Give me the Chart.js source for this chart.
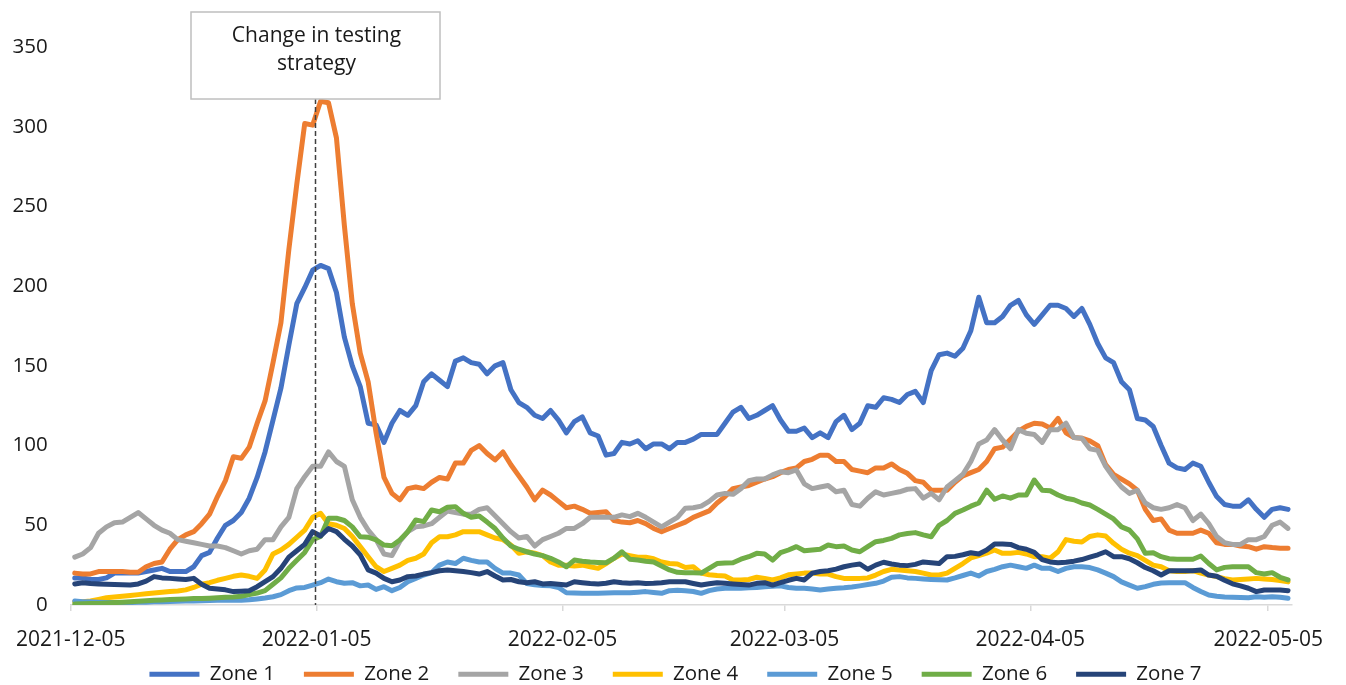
<!DOCTYPE html>
<html>
<head>
<meta charset="UTF-8">
<title>Zones</title>
<script src="https://cdn.jsdelivr.net/npm/chart.js@4.4.1/dist/chart.umd.min.js"></script>
<style>
  html, body { margin: 0; padding: 0; background: #fff; }
  #area-grafico { width: 1346px; height: 685px; }
</style>
</head>
<body>
<div id="area-grafico"><canvas id="grafico" width="1346" height="685"></canvas></div>
<script>
  // daily values, first day = startDate
  var startDate = '2021-12-05';
  var tickLabels = ['2021-12-05', '2022-01-05', '2022-02-05', '2022-03-05', '2022-04-05', '2022-05-05'];
  var seriesNames = ['Zone 1', 'Zone 2', 'Zone 3', 'Zone 4', 'Zone 5', 'Zone 6', 'Zone 7'];
  var seriesColors = ['#4472C4', '#ED7D31', '#A5A5A5', '#FFC000', '#5B9BD5', '#70AD47', '#264478'];
  var markerDate = '2022-01-05';
  var markerText = ['Change in testing', 'strategy'];

  var zone1 = [17,17,16,16,17,20,20,20,20,21,
    22,23,21,21,21,24,31,33,42,50,
    53,58,67,80,96,116,136,163,189,199,
    210,213,211,196,168,150,137,114,113,102,
    114,122,119,125,140,145,141,137,153,155,
    152,151,145,150,152,135,127,124,119,117,
    122,116,108,115,118,108,106,94,95,102,
    101,103,98,101,101,98,102,102,104,107,
    107,107,114,121,124,117,119,122,125,116,
    109,109,111,105,108,105,115,119,110,114,
    125,124,130,129,127,132,134,127,147,157,
    158,156,161,172,193,177,177,181,188,191,
    182,176,182,188,188,186,181,186,176,164,
    155,152,140,135,117,116,112,100,89,86,
    85,89,87,77,68,63,62,62,66,60,
    55,60,61,60];
  var zone2 = [20,19.5,19.5,21,21,21,21,20.5,20.5,24,
    26,27,35,41,44,46,51,57,68,78,
    93,92,99,114,128,152,177,223,264,302,
    301,316,315,293,238,189,158,140,108,80,
    70,66,73,74,73,77,80,79,89,89,
    97,100,95,91,96,88,81,74,66,72,
    69,65,61,62,60,57.5,58,58.5,53,52,
    51.6,53,51,48,46,48,50,52,55,57,
    59,64,68,73,74,75,77,79,80.5,83,
    85,86,90,91.4,94,94,90,90,85,84,
    83,86,86,88.5,85,82.6,78,77,72,72,
    72,77,81,83,85,90,98,99,104,109,
    112,114,113.5,111,117,108,105,104.6,103,100,
    88,82,79,76,72,60,53,54,47,45,
    45,45,47,45,39,38,38,37,36.6,35,
    36.6,36,35.6,35.6];
  var zone3 = [30,32,36,45,49,51.6,52,55,58,54,
    50,47,45,41,40,39,38,37,37,36,
    34,32,34,35,41,41,49,55,73,80.5,
    87,87,96,90,87,66,55,47,41,32,
    31,40,46,49,49.6,51,55,59,58,57,
    57,60,61,56,51,46,42,43,37,41,
    43,45,48,48,51,55,55,55,55,56.5,
    55.4,57.5,55,52,49,52,55,60.7,61,62,
    65,69,70,69.4,73,78,79,79,81.6,83.6,
    83,84.7,76,73,74,75,71,72,63,62,
    67,71,69,70,71,72.6,73,67,70,66,
    74,78,82,90,101,103.5,110,103.5,98,110,
    107.7,107,102,110,110,114,105,104.6,98,97,
    87,80,74,70,72,64,61,60,61,63,
    61,53,57,51,43,39,38,38,41,41,
    43,50,52,48];
  var zone4 = [2,2,2.5,3.5,4.5,5,5.5,6,6.5,7,
    7.5,8,8.5,8.8,9.5,11,13,14,15.5,16.7,
    18,18.8,18,16.7,22,32,34.5,38,42.5,47,
    55,57.5,51,50,48,43,36.6,30.3,24,21,
    23,25,28,29.3,32,39,42.8,42.8,44,46,
    46,46,44,42,41,37.6,32.4,33.4,32.5,31,
    27,25,25,24.5,25,24,23,26,29.3,32,
    31,30,30,29,27,26,25.7,23.5,24,20,
    19,18.5,18.2,15.7,15.7,16,17.4,16.7,15.7,17,
    19,19.5,20,20,19.5,19.4,17.8,16.7,16.7,16.7,
    17,18.8,21,22.4,22,21.5,21,20,18.8,18.8,
    20,23,26,29.5,31,32.5,34.5,32.4,32.4,33,
    32,30.3,30.3,29.3,33.4,41,40,39.5,43,44,
    43.3,38.7,35,32.5,31,28,25,24,21.5,21,
    21,21.5,20,18.8,17.8,16.5,15.7,16,16.3,16.7,
    16.3,16,15.3,14.5];
  var zone5 = [2.5,2,2,1.8,1.5,1.5,1.5,1.5,1.8,1.8,
    2,2,2.2,2.3,2.5,2.5,2.7,2.8,3,3,
    3,3,3.3,3.8,4.4,5.2,6.5,9,10.7,11,
    12.5,14,16.3,14.6,13.6,14,12,12.5,9.8,11.5,
    9,11,14.6,16.7,18.8,20.3,25,27,26,29.3,
    28,27,27,23,20,20,18.8,13.5,12.7,12.3,
    12,11,7.7,7.5,7.3,7.3,7.3,7.5,7.7,7.7,
    7.7,8,8.4,7.8,7.3,9,9.2,9,8.5,7.3,
    9,10,10.5,10.5,10.5,10.8,11,11.5,11.8,12,
    11,10.5,10.5,10,9.4,10,10.5,10.8,11.3,12,
    12.8,13.6,15,17.4,17.8,17,16.7,16.3,16,15.8,
    15.7,17,18.5,20,18.2,21,22.4,24,25,24,
    23,25,23,23,21,23,24,24,23.5,22,
    20,17.8,14.5,12.5,10.5,11.5,13,13.8,14,14,
    14,11,8.5,6.3,5.5,5,4.8,4.7,4.6,5.2,
    4.8,5.2,4.8,4.2];
  var zone6 = [0.6,0.8,1,1,1.2,1.5,1.8,2,2.3,2.7,
    3,3.2,3.4,3.6,3.8,4,4,4.2,4.5,4.8,
    5,5.5,6.5,7.5,9,13,17,23,28,33,
    41,43,54.4,54.4,53,49,42.8,42.5,40.8,37.6,
    37.2,40.8,46,53.3,52.3,59.6,58.5,61.3,61.7,57.5,
    55,55.8,52,48,42,37,35,33.4,32,31,
    29.3,27,24,28.2,27.5,27,26.7,26.5,29.3,33.4,
    28.7,28.2,27.5,27,24.5,22,20.5,20.3,20.2,20,
    23,26,26.3,26.5,28.7,30.3,32.4,32,28.2,32.8,
    34.5,36.6,34,34.5,35,37.6,36.6,37,34.5,33.4,
    36.6,39.7,40.5,41.8,44,44.8,45.4,44,42.8,50,
    53,57.5,59.6,62,64,72,66.3,68.4,67,69,
    69,78.4,72,71.7,69,67,66,64,62.7,60,
    57,54,49,47,41.5,32.4,32.8,30.3,29,28.7,
    28.7,28.7,30.7,26,22,23.6,24,24,24,20.3,
    19.4,20.3,17.4,15.7];
  var zone7 = [13.2,14,13.5,13.2,13,12.8,12.7,12.5,13.2,15,
    17.8,17,16.7,16.3,16,16.7,13,10.5,10,9.5,
    8.4,8.7,9,11.5,14.6,17.8,23,30,34,38,
    46,43.3,48,46,41.2,37,31.4,22,20,16.7,
    14.6,15.7,17.8,18.2,19.4,20.3,21.5,22,21.5,21,
    20.3,19.4,21,18.2,15.7,16,14.6,14,14.6,13.2,
    13.5,13,12.5,14.6,14,13.5,13.2,13.6,14.6,14,
    13.6,14,13.5,13.6,14,14.6,14.6,14.6,13.5,12.5,
    13.3,14,13.6,13.2,12.8,12.5,13.6,14,12.5,14,
    15.5,16.7,15.7,20,21,21.5,22.5,24,25,25.7,
    22.4,25,26.8,25.7,25,24.7,25.5,27,26.5,26,
    30.3,30.5,31.5,32.8,32,34.5,38.3,38.3,38,36,
    35,33,28.5,27,26.5,26.8,27.5,28.5,30,31.5,
    33.4,30.3,30.3,29,26.5,23.5,21.5,18.8,21.5,21.5,
    21.5,21.5,22,18.8,18,15.5,13.3,12,10.5,8.4,
    9.4,9.4,9.4,9];

  var fonte = '"Open Sans", sans-serif';

  function dayOf(d) {
    return Math.round((Date.parse(d) - Date.parse(startDate)) / 86400000);
  }

  var allZones = [zone1, zone2, zone3, zone4, zone5, zone6, zone7];
  var days = zone1.map(function(v, i) { return i; });
  // each day takes one slot, ticks sit on the slot edge
  var tickPos = tickLabels.map(function(t) { return dayOf(t) - 0.5; });

  var datasets = allZones.map(function(z, i) {
    return {
      label: seriesNames[i],
      data: z,
      borderColor: seriesColors[i],
      backgroundColor: seriesColors[i],
      borderWidth: 5,
      borderCapStyle: 'round',
      borderJoinStyle: 'round',
      pointRadius: 0,
      tension: 0,
      fill: false,
      order: allZones.length - i
    };
  });

  // text box + dashed line at the testing change
  var markerPlugin = {
    id: 'marker',
    afterDatasetsDraw: function(chart) {
      var ctx = chart.ctx;
      var area = chart.chartArea;
      var x = Math.round(chart.scales.x.getPixelForValue(dayOf(markerDate) - 0.7)) + 0.5;
      var boxW = 249, boxTop = 12, boxBottom = 99;
      ctx.save();
      ctx.strokeStyle = '#404040';
      ctx.lineWidth = 1.5;
      ctx.setLineDash([5, 3]);
      ctx.beginPath();
      ctx.moveTo(x, boxBottom);
      ctx.lineTo(x, area.bottom);
      ctx.stroke();
      ctx.setLineDash([]);
      ctx.fillStyle = '#ffffff';
      ctx.fillRect(x - boxW / 2, boxTop, boxW, boxBottom - boxTop);
      ctx.strokeStyle = '#bfbfbf';
      ctx.lineWidth = 1.5;
      ctx.strokeRect(x - boxW / 2, boxTop, boxW, boxBottom - boxTop);
      ctx.fillStyle = '#1a1a1a';
      ctx.font = '21px ' + fonte;
      ctx.textAlign = 'center';
      ctx.textBaseline = 'alphabetic';
      ctx.fillText(markerText[0], x + 1, 41.5);
      ctx.fillText(markerText[1], x + 1, 70);
      ctx.restore();
    }
  };

  // legend sits a bit higher and is centred on the whole canvas
  var legendPlace = {
    id: 'legendPlace',
    afterLayout: function(chart) {
      var lg = chart.legend;
      lg.top = 635;
      lg.bottom = chart.height;
      lg.left = 5;
      lg.right = chart.width;
    }
  };

  new Chart(document.getElementById('grafico'), {
    type: 'line',
    data: { labels: days, datasets: datasets },
    plugins: [markerPlugin, legendPlace],
    options: {
      responsive: false,
      animation: false,
      layout: { padding: { left: 0, right: 54, top: 47, bottom: 0 } },
      plugins: {
        tooltip: { enabled: false },
        legend: {
          position: 'bottom',
          maxHeight: 32,
          labels: {
            usePointStyle: true,
            pointStyle: 'line',
            pointStyleWidth: 50,
            padding: 29,
            color: '#1a1a1a',
            font: { family: fonte, size: 20.5 },
            sort: function(a, b) { return a.datasetIndex - b.datasetIndex; }
          }
        }
      },
      scales: {
        x: {
          type: 'linear',
          min: -0.5,
          max: days.length - 0.5,
          afterFit: function(scale) { scale.height = 48; },
          afterBuildTicks: function(scale) {
            scale.ticks = tickPos.map(function(v) { return { value: v }; });
          },
          ticks: {
            autoSkip: false,
            maxRotation: 0,
            padding: 16,
            color: '#1a1a1a',
            font: { family: fonte, size: 21 },
            callback: function(value) {
              var i = tickPos.indexOf(value);
              return i >= 0 ? tickLabels[i] : '';
            }
          },
          grid: { display: true, drawOnChartArea: false, drawTicks: true, tickLength: 6, color: '#d9d9d9', lineWidth: 1.5 },
          border: { display: true, color: '#d9d9d9', width: 1.5 }
        },
        y: {
          min: 0,
          max: 350,
          afterFit: function(scale) { scale.width = 68; },
          ticks: {
            stepSize: 50,
            padding: 23,
            color: '#1a1a1a',
            font: { family: fonte, size: 20.5 }
          },
          grid: { display: false, drawTicks: false },
          border: { display: false }
        }
      }
    }
  });
</script>
</body>
</html>
